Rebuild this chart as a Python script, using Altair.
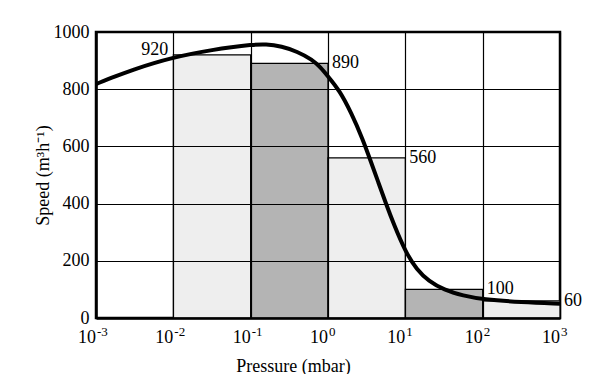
import altair as alt
import pandas as pd

FONT = "Liberation Serif"
W, H = 464, 286

# Bars (pressure decades, exponent of 10)
bar_start_exp = [-2, -1, 0, 1, 2]
bar_end_exp = [-1, 0, 1, 2, 3]
bar_speed = [920, 890, 560, 100, 60]
bar_shade = ["light", "dense", "light", "dense", "light"]

# Pumping speed curve (log10 pressure, speed)
curve_exp = [-3.0, -2.75, -2.5, -2.25, -2.0, -1.75, -1.5, -1.25, -1.0, -0.8, -0.6, -0.4,
             -0.2, -0.1, 0.0, 0.15, 0.3, 0.45, 0.55, 0.65, 0.75, 0.85, 1.0, 1.15, 1.3,
             1.5, 1.75, 2.0, 2.5, 3.0]
curve_speed = [818, 845, 870, 892, 910, 925, 937, 947, 955, 958, 950, 932,
               903, 877, 845, 795, 718, 625, 550, 475, 400, 328, 232, 168, 130,
               98, 78, 65, 55, 50]

# Axis tick labels
tick_exp = [-3, -2, -1, 0, 1, 2, 3]
tick_sup = ["-3", "-2", "-1", "0", "1", "2", "3"]
y_ticks = [0, 200, 400, 600, 800, 1000]

bars = pd.DataFrame({
    "start": bar_start_exp,
    "end": bar_end_exp,
    "speed": bar_speed,
    "shade": bar_shade,
    "label": [str(v) for v in bar_speed],
})
curve = pd.DataFrame({"exp": curve_exp, "speed": curve_speed})
ticks = pd.DataFrame({"exp": tick_exp, "sup": tick_sup})

xscale = alt.Scale(domain=[-3, 3], nice=False, zero=False)
yscale = alt.Scale(domain=[0, 1000], nice=False)

base = alt.Chart(bars)

rects = base.mark_rect(stroke="black", strokeWidth=1.2).encode(
    x=alt.X("start:Q", scale=xscale,
            axis=alt.Axis(values=tick_exp, labels=False, ticks=False, grid=True,
                          title="Pressure (mbar)", titleX=197, titleY=53,
                          titleAlign="center", titleBaseline="alphabetic", zindex=1)),
    x2="end:Q",
    y=alt.Y("speed:Q", scale=yscale,
            axis=alt.Axis(values=y_ticks, ticks=False, grid=True, labelPadding=7, format="d",
                          title="Speed (m³h⁻¹)", titleX=-53, titleY=H / 2,
                          titleAngle=270, titleAlign="center", titleBaseline="middle",
                          zindex=1)),
    y2=alt.datum(0),
    fill=alt.Fill("shade:N", scale=alt.Scale(domain=["light", "dense"],
                                             range=["#eeeeee", "#b4b4b4"]), legend=None),
)

line = alt.Chart(curve).mark_line(color="black", strokeWidth=4, interpolate="basis").encode(
    x=alt.X("exp:Q", scale=xscale),
    y=alt.Y("speed:Q", scale=yscale),
)

lab_right = base.transform_filter("datum.start > -2").mark_text(
    align="left", baseline="middle", dx=4, dy=0, font=FONT, fontSize=18, color="black"
).encode(x=alt.X("end:Q", scale=xscale), y=alt.Y("speed:Q", scale=yscale), text="label:N")

lab_left = base.transform_filter("datum.start == -2").mark_text(
    align="right", baseline="middle", dx=-5, dy=-5, font=FONT, fontSize=18, color="black"
).encode(x=alt.X("start:Q", scale=xscale), y=alt.Y("speed:Q", scale=yscale), text="label:N")

tick10 = alt.Chart(ticks).mark_text(
    align="right", baseline="alphabetic", font=FONT, fontSize=18, color="black"
).encode(x=alt.X("exp:Q", scale=xscale), y=alt.value(H + 25), text=alt.value("10"))

tickexp = alt.Chart(ticks).mark_text(
    align="left", baseline="alphabetic", dx=1, font=FONT, fontSize=13, color="black"
).encode(x=alt.X("exp:Q", scale=xscale), y=alt.value(H + 18), text="sup:N")

chart = alt.layer(rects, line, lab_right, lab_left, tick10, tickexp).properties(
    width=W, height=H,
    padding={"left": 88, "top": 24, "right": 30, "bottom": 60},
    autosize="none",
).configure_view(
    stroke="black", strokeWidth=2.5
).configure_axis(
    domainColor="black", domainWidth=2.5,
    gridColor="black", gridWidth=1.2, gridOpacity=1,
    labelFont=FONT, labelFontSize=18, labelColor="black",
    titleFont=FONT, titleFontSize=18, titleFontWeight="normal", titleColor="black",
)

chart.save("out.html", embed_options={"renderer": "svg", "actions": False})
